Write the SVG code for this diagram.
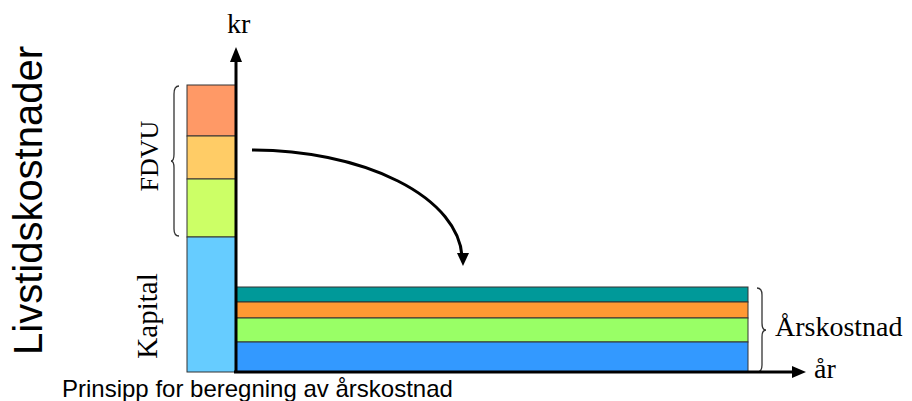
<svg xmlns="http://www.w3.org/2000/svg" width="912" height="401" viewBox="0 0 912 401">
<style>
.serif{font-family:"Liberation Serif","Times New Roman",serif;fill:#000}
.sans{font-family:"Liberation Sans",Arial,sans-serif;fill:#000}
.band{stroke:#333;stroke-width:1}
.brace{fill:none;stroke:#333;stroke-width:1.3}
.axis{stroke:#000;stroke-width:3;fill:none}
</style>
<rect width="912" height="401" fill="#fff"/>
<g id="title">
<text class="sans" font-size="40" transform="translate(42,355) rotate(-90)">Livstidskostnader</text>
</g>
<g id="caption">
<text class="sans" font-size="24" x="62" y="397">Prinsipp for beregning av årskostnad</text>
</g>
<g id="stack-left">
<rect class="band" x="187" y="85" width="49" height="51" fill="#FF9966"/>
<rect class="band" x="187" y="136" width="49" height="43" fill="#FFCC66"/>
<rect class="band" x="187" y="179" width="49" height="58" fill="#CCFF66"/>
<rect class="band" x="187" y="237" width="49" height="135" fill="#66CCFF" stroke="#66CCFF"/>
</g>
<g id="fdvu-label">
<path class="brace" d="M179,86 Q174,86 174,94 L174,154 Q174,161 171,161 Q174,161 174,168 L174,229 Q174,236 179,236"/>
<text class="serif" font-size="26" text-anchor="middle" transform="translate(158,156) rotate(-90)">FDVU</text>
</g>
<g id="kapital-label">
<text class="serif" font-size="29" text-anchor="middle" transform="translate(157,316) rotate(-90)">Kapital</text>
</g>
<g id="stack-bottom">
<rect class="band" x="236" y="287" width="512" height="15" fill="#009999"/>
<rect class="band" x="236" y="302" width="512" height="16" fill="#FF9933"/>
<rect class="band" x="236" y="318" width="512" height="24" fill="#99FF66"/>
<rect class="band" x="236" y="342" width="512" height="30" fill="#3399FF"/>
</g>
<g id="arskostnad-label">
<path class="brace" d="M757,288 Q762,288 762,295 L762,323 Q762,330 766,330 Q762,330 762,337 L762,365 Q762,372 757,372"/>
<text class="serif" font-size="28" x="775" y="336">Årskostnad</text>
</g>
<g id="axes">
<line class="axis" x1="236" y1="373" x2="236" y2="60"/>
<polygon points="236,47 230,62 242,62" fill="#000"/>
<line class="axis" x1="234" y1="372" x2="794" y2="372"/>
<polygon points="806,372 792,366 792,378" fill="#000"/>
<text class="serif" font-size="28" x="227" y="33">kr</text>
<text class="serif" font-size="28" x="814" y="378">år</text>
</g>
<g id="connectors">
<path d="M252,150 A211,110 0 0 1 462,256" fill="none" stroke="#000" stroke-width="3"/>
<polygon points="463,266 457,253 469,253" fill="#000"/>
</g>
</svg>
